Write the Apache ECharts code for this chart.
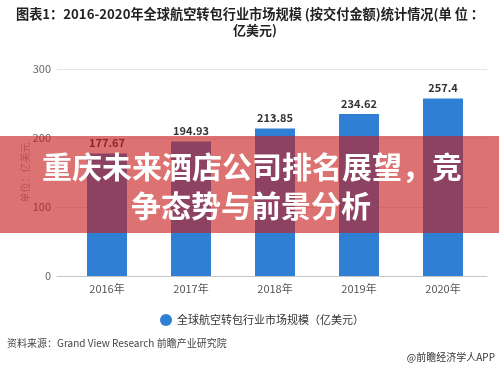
<!DOCTYPE html>
<html><head><meta charset="utf-8">
<script src="https://cdn.jsdelivr.net/npm/echarts@6/dist/echarts.min.js"></script>
<style>html,body{margin:0;padding:0;background:#fff}#c{width:499px;height:371px}</style>
</head><body><div id="c"></div>
<script>
const categories = ['2016年','2017年','2018年','2019年','2020年'];
const values = [177.67, 194.93, 213.85, 234.62, 257.4];
const yTicks = [0, 100, 200, 300];
const seriesName = '全球航空转包行业市场规模（亿美元）';
const titleLine1 = '图表1：2016-2020年全球航空转包行业市场规模 (按交付金额)统计情况(单 位 ：';
const titleLine2 = '亿美元)';
const yName = '单位：亿美元';
const sourceText = '资料来源：Grand View Research 前瞻产业研究院';
const creditText = '@前瞻经济学人APP';
const bannerLines = ['重庆未来酒店公司排名展望，竞', '争态势与前景分析'];

const FONT = '"Noto Sans CJK SC", "Noto Sans", sans-serif';
const chart = echarts.init(document.getElementById('c'));
chart.setOption({
  animation: false,
  textStyle: { fontFamily: FONT },
  grid: [
    { left: 57, right: 12, top: 69, bottom: 95 },
    { left: 65, right: 14, top: 69, bottom: 95 }
  ],
  xAxis: [
    { gridIndex: 0, type: 'category', data: categories,
      axisLine: { show: true, lineStyle: { color: '#c8c8c8' } },
      axisTick: { show: false }, axisLabel: { show: false } },
    { gridIndex: 1, type: 'category', data: categories,
      axisLine: { show: false }, axisTick: { show: false },
      axisLabel: { color: '#555', fontSize: 11, margin: 7, fontFamily: FONT } }
  ],
  yAxis: [
    { gridIndex: 0, type: 'value', min: yTicks[0], max: yTicks[yTicks.length-1], interval: 100,
      name: yName, nameLocation: 'middle', nameRotate: 90, nameGap: 27, nameMoveOverlap: false,
      nameTextStyle: { color: '#aaa', fontSize: 10, fontFamily: FONT },
      axisLine: { show: false }, axisTick: { show: false },
      axisLabel: { color: '#666', fontSize: 11, margin: 6, fontFamily: FONT },
      splitLine: { lineStyle: { color: '#e6e6e6' } } },
    { gridIndex: 1, type: 'value', min: yTicks[0], max: yTicks[yTicks.length-1], interval: 100, show: false }
  ],
  legend: {
    left: 155, top: 309, icon: 'circle', itemWidth: 12, itemHeight: 12, itemGap: 10,
    textStyle: { color: '#333', fontSize: 11, fontFamily: FONT },
    data: [seriesName]
  },
  series: [{
    name: seriesName, type: 'bar', xAxisIndex: 1, yAxisIndex: 1,
    data: values, barWidth: 40,
    itemStyle: { color: '#2f80d5' },
    label: { show: true, position: 'top', distance: 5, color: '#333', fontSize: 11, fontWeight: 'bold', fontFamily: FONT }
  }],
  graphic: [
    { type: 'text', x: 250, y: 14, z: 50,
      style: { text: titleLine1, font: 'bold 13.2px ' + FONT, fill: '#222', textAlign: 'center', textVerticalAlign: 'middle' } },
    { type: 'text', x: 255, y: 30, z: 50,
      style: { text: titleLine2, font: 'bold 13px ' + FONT, fill: '#222', textAlign: 'center', textVerticalAlign: 'middle' } },
    { type: 'text', x: 7, y: 343, z: 50,
      style: { text: sourceText, font: '10px ' + FONT, fill: '#444', textVerticalAlign: 'middle' } },
    { type: 'text', x: 495, y: 357, z: 50,
      style: { text: creditText, font: '10px ' + FONT, fill: '#333', textAlign: 'right', textVerticalAlign: 'middle' } },
    { type: 'rect', z: 100, shape: { x: 0, y: 136, width: 499, height: 97 },
      style: { fill: 'rgba(200,28,28,0.62)' } },
    { type: 'text', x: 252, y: 167, z: 101,
      style: { text: bannerLines[0], font: 'bold 30px ' + FONT, fill: '#fff', textAlign: 'center', textVerticalAlign: 'middle',
               shadowColor: 'rgba(60,0,0,0.5)', shadowBlur: 3, shadowOffsetX: 1, shadowOffsetY: 1 } },
    { type: 'text', x: 251, y: 206, z: 101,
      style: { text: bannerLines[1], font: 'bold 30px ' + FONT, fill: '#fff', textAlign: 'center', textVerticalAlign: 'middle',
               shadowColor: 'rgba(60,0,0,0.5)', shadowBlur: 3, shadowOffsetX: 1, shadowOffsetY: 1 } }
  ]
});
</script></body></html>
